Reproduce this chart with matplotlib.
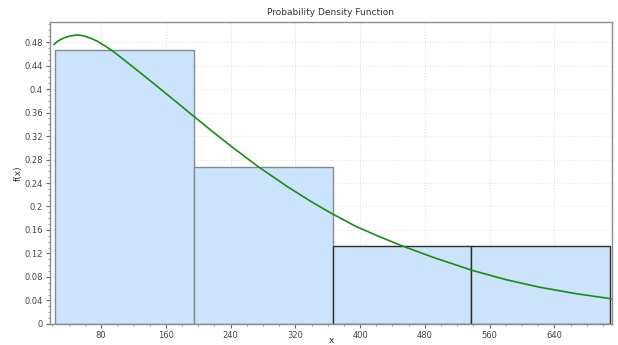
import matplotlib
matplotlib.use("Agg")
import matplotlib.pyplot as plt
from matplotlib.ticker import MultipleLocator, AutoMinorLocator, FuncFormatter

# histogram bins (relative frequency)
bin_edges = [23, 194.5, 366, 537.5, 709]
bin_heights = [0.4667, 0.2667, 0.1333, 0.1333]
bin_edgecolors = ['#7f8a96', '#7f8a96', '#2b2b2b', '#2b2b2b']

# fitted pdf curve
curve_x = [22, 26, 31, 36, 41, 45, 50, 55, 60, 68, 76, 86, 97, 120, 140, 165,
           195, 220, 245, 275, 310, 340, 365, 395, 425, 450, 490, 538, 580,
           622, 667, 710]
curve_y = [0.476, 0.481, 0.485, 0.488, 0.490, 0.491, 0.492, 0.4915, 0.490,
           0.486, 0.481, 0.4725, 0.462, 0.437, 0.415, 0.387, 0.353, 0.325,
           0.298, 0.267, 0.234, 0.208, 0.188, 0.166, 0.148, 0.134, 0.1135,
           0.0915, 0.0755, 0.0625, 0.0515, 0.043]

fig = plt.figure(figsize=(6.18, 3.45), dpi=100)
ax = fig.add_axes([0.081, 0.061, 0.909, 0.875])

for i in range(len(bin_heights)):
    left = bin_edges[i]
    w = bin_edges[i + 1] - bin_edges[i]
    ax.bar(left, bin_heights[i], width=w, align='edge', color='#cce4fb',
           edgecolor=bin_edgecolors[i], linewidth=1.0, zorder=2)

ax.plot(curve_x, curve_y, color='#1a8a1a', linewidth=1.2, zorder=3)

ax.set_xlim(17, 711)
ax.set_ylim(0, 0.514)

ax.xaxis.set_major_locator(MultipleLocator(80))
ax.xaxis.set_minor_locator(AutoMinorLocator(4))
ax.yaxis.set_major_locator(MultipleLocator(0.04))
ax.yaxis.set_minor_locator(AutoMinorLocator(4))
ax.yaxis.set_major_formatter(FuncFormatter(lambda v, p: '%g' % round(v, 2)))

ax.grid(True, which='major', linestyle=':', color='#e0e0e0', linewidth=0.8, zorder=0)
ax.set_axisbelow(True)

for s in ax.spines.values():
    s.set_color('#8c8c8c')
    s.set_linewidth(1.0)

ax.tick_params(axis='both', which='major', labelsize=6, colors='#666666',
               length=3, width=0.8, labelcolor='#444444', pad=2)
ax.tick_params(axis='both', which='minor', length=1.5, width=0.6, colors='#888888')

ax.set_title('Probability Density Function', fontsize=6.5, color='#333333', pad=5)
ax.set_xlabel('x', fontsize=6.5, color='#333333')
ax.set_ylabel('f(x)', fontsize=6.5, color='#333333')
ax.xaxis.set_label_coords(0.5, -0.056)
ax.yaxis.set_label_coords(-0.057, 0.5)
ax.xaxis.label.set_va('center')
ax.yaxis.label.set_va('center')

fig.savefig('out.png', dpi=100)
